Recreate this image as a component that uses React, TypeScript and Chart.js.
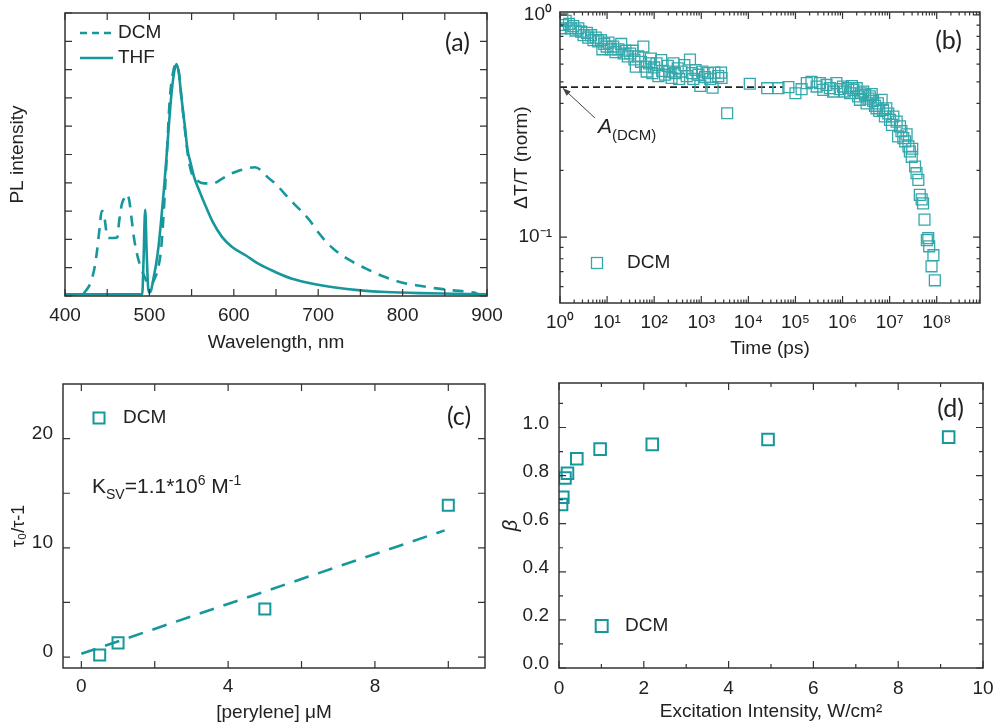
import React, { useEffect, useRef } from "react";
import { Chart, registerables } from "chart.js";

Chart.register(...registerables);

const TEAL = "#16979c";
const TEAL_LIGHT = "#35a8ac";
const INK = "#222222";
const FRAME = "#333333";
const SANS = "'Liberation Sans', Arial, Helvetica, sans-serif";
const PANEL_FONT = "Lato, 'Open Sans', sans-serif";

Chart.defaults.font.family = SANS;
Chart.defaults.color = INK;

// ---------------- (a) PL spectra ----------------
const dcmWavelength = [
  400, 420, 425, 430, 435, 438, 441, 443.5, 446, 448,
  450, 453, 458, 462, 464, 467, 470, 473, 476, 479,
  482, 486, 490, 494, 498, 502, 506, 510, 514, 518,
  521, 524, 528, 532, 535, 538, 542, 546, 550, 556,
  565, 575, 585, 595, 605, 615, 625, 632, 640, 650,
  660, 670, 680, 690, 700, 710, 720, 740, 760, 780,
  800, 820, 840, 860, 875, 880, 885, 890, 900,
];
const dcmIntensity = [
  0.06, 0.06, 0.2, 0.45, 1.0, 1.6, 2.4, 3.0, 2.95, 2.5,
  2.1, 2.05, 2.05, 2.07, 2.6, 3.2, 3.45, 3.6, 3.4, 2.7,
  2.0, 1.4, 1.0, 0.7, 0.45, 0.4, 0.6, 0.95, 1.7, 3.5,
  5.2, 6.9, 7.9, 8.2, 7.9, 7.0, 5.9, 4.9, 4.35, 4.1,
  3.98, 3.98, 4.12, 4.3, 4.42, 4.5, 4.55, 4.45, 4.2, 3.95,
  3.62, 3.3, 3.0, 2.67, 2.25, 1.9, 1.62, 1.22, 0.92, 0.66,
  0.47, 0.36, 0.27, 0.2, 0.16, 0.14, 0.12, 0.06, 0.06,
];
const thfWavelength = [
  400, 450, 491.5, 493, 495, 496.8, 498.5, 500, 502, 505,
  508, 511, 514, 517, 520, 523, 526, 529, 532, 535,
  538, 542, 545, 549, 553, 559, 567, 575, 586, 598,
  614, 629, 649, 669, 692, 720, 750, 780, 820, 860,
  900,
];
const thfIntensity = [
  0.06, 0.06, 0.06, 1.2, 3.05, 1.5, 0.3, 0.12, 0.2, 0.65,
  1.14, 1.8, 2.7, 3.7, 4.8, 6.0, 7.1, 7.85, 8.2, 7.85,
  7.0, 6.0, 5.2, 4.68, 4.2, 3.73, 3.15, 2.62, 2.09, 1.73,
  1.44, 1.14, 0.85, 0.61, 0.44, 0.3, 0.2, 0.14, 0.1, 0.08,
  0.06,
];
const aXTicks = [400, 500, 600, 700, 800, 900];
const aXTickMarks = [400, 450, 500, 550, 600, 650, 700, 750, 800, 850, 900];
const aYTickMarks = [0, 1, 2, 3, 4, 5, 6, 7, 8, 9, 10];

// ---------------- (b) transient decay ----------------
const timePs = [
  1.07, 1.12, 1.17, 1.32, 1.55, 1.7, 1.91, 2.14, 2.45, 2.82,
  3.16, 3.72, 3.98, 4.57, 5.13, 5.75, 6.46, 7.41, 7.94, 8.71,
  9.77, 10.7, 12.0, 13.5, 15.1, 17.4, 20.0, 22.4, 24.5, 27.5,
  30.9, 34.7, 38.0, 40.7, 45.7, 52.5, 58.9, 64.6, 69.2, 77.6,
  85.1, 91.2, 100, 112, 123, 141, 148, 170, 195, 209,
  234, 257, 275, 316, 339, 380, 437, 490, 575, 631,
  676, 759, 871, 955, 1047, 1202, 1380, 1549, 1738, 1905,
  2291, 2630, 2692, 3548,
  10715, 25119, 43652, 70795, 1.0e5, 1.35e5, 1.74e5, 2.19e5, 2.82e5, 3.31e5,
  3.89e5, 4.57e5, 5.37e5, 6.31e5, 7.41e5, 8.71e5, 1.02e6, 1.12e6, 1.32e6, 1.45e6,
  1.58e6, 1.7e6, 2.0e6, 2.14e6, 2.34e6, 2.51e6, 2.75e6, 3.02e6, 3.24e6, 3.55e6,
  3.8e6, 4.17e6, 4.47e6, 4.9e6, 5.25e6, 5.62e6, 6.03e6, 6.76e6, 7.24e6, 7.94e6,
  8.51e6, 9.33e6, 1.02e7, 1.12e7, 1.2e7, 1.41e7, 1.51e7, 1.66e7, 1.78e7, 1.95e7,
  2.14e7, 2.29e7, 2.51e7, 2.69e7, 2.95e7, 3.02e7, 3.47e7, 3.72e7, 4.07e7, 4.37e7,
  4.79e7, 5.13e7, 5.5e7, 6.17e7, 6.61e7, 6.92e7, 7.76e7, 8.51e7, 9.12e7,
];
const dtNorm = [
  0.87, 0.96, 0.9, 0.94, 0.91, 0.87, 0.89, 0.85, 0.87, 0.84,
  0.81, 0.83, 0.79, 0.81, 0.77, 0.79, 0.76, 0.77, 0.7, 0.74,
  0.72, 0.75, 0.7, 0.72, 0.68, 0.7, 0.74, 0.67, 0.69, 0.65,
  0.67, 0.69, 0.63, 0.585, 0.65, 0.615, 0.72, 0.585, 0.556, 0.605,
  0.636, 0.547, 0.58, 0.605, 0.53, 0.626, 0.56, 0.538, 0.59, 0.556,
  0.52, 0.605, 0.547, 0.575, 0.515, 0.556, 0.594, 0.53, 0.63, 0.547,
  0.515, 0.565, 0.538, 0.479, 0.556, 0.525, 0.547, 0.515, 0.47, 0.55,
  0.53, 0.55, 0.52, 0.361,
  0.49, 0.468, 0.468, 0.473, 0.444, 0.463, 0.493, 0.5, 0.476, 0.493,
  0.46, 0.484, 0.468, 0.452, 0.493, 0.463, 0.476, 0.452, 0.468, 0.444,
  0.478, 0.46, 0.468, 0.43, 0.415, 0.444, 0.452, 0.437, 0.4, 0.42,
  0.43, 0.44, 0.41, 0.39, 0.38, 0.4, 0.37, 0.415, 0.374, 0.349,
  0.38, 0.36, 0.337, 0.32, 0.349, 0.331, 0.284, 0.315, 0.3, 0.279,
  0.27, 0.29, 0.256, 0.243, 0.23, 0.25, 0.208, 0.194, 0.181, 0.155,
  0.148, 0.142, 0.12, 0.097, 0.099, 0.091, 0.074, 0.083, 0.064,
];
const aDcmLevel = 0.473;
const aDcmLineStart = 1;
const aDcmLineEnd = 5.4e4;
const bXTickValues = [1, 1e1, 1e2, 1e3, 1e4, 1e5, 1e6, 1e7, 1e8];
const bXTickLabels = ["10⁰", "10¹", "10²", "10³", "10⁴", "10⁵", "10⁶", "10⁷", "10⁸"];
const bYTickValues = [0.1, 1];
const bYTickLabels = ["10⁻¹", "10⁰"];
const bXMinorMarks: number[] = [];
for (let d = 1; d <= 1e8; d *= 10) for (let m = 2; m <= 9; m++) bXMinorMarks.push(m * d);
const bYMinorMarks = [0.06, 0.07, 0.08, 0.09, 0.2, 0.3, 0.4, 0.5, 0.6, 0.7, 0.8, 0.9];
const bArrowFrom: [number, number] = [5.5, 0.344];
const bArrowTo: [number, number] = [1.15, 0.468];

// ---------------- (c) Stern-Volmer ----------------
const peryleneUM = [0.5, 1, 5, 10];
const tauRatio = [0.2, 1.3, 4.4, 13.9];
const ksvFitX = [0, 9.9];
const ksvFitY = [0.3, 11.6];
const cXTicks = [0, 4, 8];
const cXTickMarks = [0, 2, 4, 6, 8, 10];
const cYTicks = [0, 10, 20];
const cYTickMarks = [0, 5, 10, 15, 20];

// ---------------- (d) beta vs excitation ----------------
const excitationW = [0.06, 0.09, 0.14, 0.2, 0.42, 0.97, 2.2, 4.93, 9.19];
const betaValues = [0.68, 0.71, 0.79, 0.81, 0.87, 0.91, 0.93, 0.95, 0.96];
const dXTicks = [0, 2, 4, 6, 8, 10];
const dXMinorMarks = [1, 3, 5, 7, 9];
const dYTicks = [0, 0.2, 0.4, 0.6, 0.8, 1.0];
const dYTickLabels = ["0.0", "0.2", "0.4", "0.6", "0.8", "1.0"];
const dYMinorMarks = [0.1, 0.3, 0.5, 0.7, 0.9, 1.1];

// ---------------- helpers ----------------
const fixWidth = (w: number) => (scale: any) => {
  scale.width = w;
  scale.paddingTop = 0;
  scale.paddingBottom = 0;
  scale.paddingLeft = 0;
  scale.paddingRight = 0;
};
const fixHeight = (h: number) => (scale: any) => {
  scale.height = h;
  scale.paddingLeft = 0;
  scale.paddingRight = 0;
  scale.paddingTop = 0;
  scale.paddingBottom = 0;
};
const setTicks = (values: number[]) => (scale: any) => {
  scale.ticks = values.map((value) => ({ value }));
};
const pairs = (xs: number[], ys: number[]) => xs.map((x, i) => ({ x, y: ys[i] }));

type FrameSpec = {
  xMajor: number[];
  xMinor?: number[];
  yMajor: number[];
  yMinor?: number[];
  major: number;
  minor: number;
};

function framePlugin(spec: FrameSpec) {
  return {
    id: "frameTicks",
    afterDraw(chart: any) {
      const { ctx, chartArea: a, scales } = chart;
      const sx = scales.x;
      const sy = scales.y;
      ctx.save();
      ctx.strokeStyle = FRAME;
      ctx.lineWidth = 1.2;
      ctx.setLineDash([]);
      ctx.beginPath();
      const xm = (vals: number[] | undefined, len: number) =>
        (vals || []).forEach((v) => {
          const p = sx.getPixelForValue(v);
          if (p < a.left - 0.5 || p > a.right + 0.5) return;
          ctx.moveTo(p, a.bottom);
          ctx.lineTo(p, a.bottom - len);
          ctx.moveTo(p, a.top);
          ctx.lineTo(p, a.top + len);
        });
      const ym = (vals: number[] | undefined, len: number) =>
        (vals || []).forEach((v) => {
          const p = sy.getPixelForValue(v);
          if (p < a.top - 0.5 || p > a.bottom + 0.5) return;
          ctx.moveTo(a.left, p);
          ctx.lineTo(a.left + len, p);
          ctx.moveTo(a.right, p);
          ctx.lineTo(a.right - len, p);
        });
      xm(spec.xMajor, spec.major);
      xm(spec.xMinor, spec.minor);
      ym(spec.yMajor, spec.major);
      ym(spec.yMinor, spec.minor);
      ctx.stroke();
      ctx.lineWidth = 1.5;
      ctx.strokeRect(a.left, a.top, a.right - a.left, a.bottom - a.top);
      ctx.restore();
    },
  };
}

type Run = { t: string; size: number; dy?: number; italic?: boolean };
type Label = {
  x: number;
  y: number;
  runs: Run[];
  align?: "left" | "center";
  baseline?: CanvasTextBaseline;
  family?: string;
};
type Deco = {
  labels?: Label[];
  lineKeys?: { x1: number; x2: number; y: number; dash: number[]; width: number; color: string }[];
  squareKeys?: { x: number; y: number; size: number; width: number; color: string }[];
  arrows?: { from: [number, number]; to: [number, number] }[];
};

function decoPlugin(deco: Deco) {
  return {
    id: "deco",
    afterDraw(chart: any) {
      const { ctx, scales } = chart;
      ctx.save();
      (deco.lineKeys || []).forEach((k) => {
        ctx.beginPath();
        ctx.setLineDash(k.dash);
        ctx.strokeStyle = k.color;
        ctx.lineWidth = k.width;
        ctx.moveTo(k.x1, k.y);
        ctx.lineTo(k.x2, k.y);
        ctx.stroke();
      });
      ctx.setLineDash([]);
      (deco.squareKeys || []).forEach((s) => {
        ctx.strokeStyle = s.color;
        ctx.lineWidth = s.width;
        ctx.strokeRect(s.x - s.size / 2, s.y - s.size / 2, s.size, s.size);
      });
      (deco.arrows || []).forEach((ar) => {
        const x1 = scales.x.getPixelForValue(ar.from[0]);
        const y1 = scales.y.getPixelForValue(ar.from[1]);
        const x2 = scales.x.getPixelForValue(ar.to[0]);
        const y2 = scales.y.getPixelForValue(ar.to[1]);
        ctx.strokeStyle = "#444";
        ctx.fillStyle = "#444";
        ctx.lineWidth = 1;
        ctx.beginPath();
        ctx.moveTo(x1, y1);
        ctx.lineTo(x2, y2);
        ctx.stroke();
        const ang = Math.atan2(y2 - y1, x2 - x1);
        const L = 8;
        const W = 3;
        const c = Math.cos(ang);
        const s = Math.sin(ang);
        ctx.beginPath();
        ctx.moveTo(x2, y2);
        ctx.lineTo(x2 - L * c + W * s, y2 - L * s - W * c);
        ctx.lineTo(x2 - L * c - W * s, y2 - L * s + W * c);
        ctx.closePath();
        ctx.fill();
      });
      (deco.labels || []).forEach((l) => {
        ctx.fillStyle = INK;
        ctx.textBaseline = l.baseline || "alphabetic";
        ctx.textAlign = "left";
        const fam = l.family || SANS;
        const fontOf = (r: Run) => `${r.italic ? "italic " : ""}${r.size}px ${fam}`;
        let total = 0;
        l.runs.forEach((r) => {
          ctx.font = fontOf(r);
          total += ctx.measureText(r.t).width;
        });
        let x = l.align === "center" ? l.x - total / 2 : l.x;
        l.runs.forEach((r) => {
          ctx.font = fontOf(r);
          ctx.fillText(r.t, x, l.y + (r.dy || 0));
          x += ctx.measureText(r.t).width;
        });
      });
      ctx.restore();
    },
  };
}

const noGrid = { display: false, drawTicks: false };
const noBorder = { display: false };
const tickFont = { size: 19 };
const titleFont = { size: 19 };
const baseOpts = (padTop: number, padRight: number) => ({
  animation: false as const,
  responsive: false,
  maintainAspectRatio: false,
  layout: { padding: { top: padTop, right: padRight, left: 0, bottom: 0 } },
  plugins: { legend: { display: false }, tooltip: { enabled: false } },
});

// ---------------- chart builders ----------------
function buildA(): any {
  return {
    type: "line",
    data: {
      datasets: [
        {
          label: "DCM",
          data: pairs(dcmWavelength, dcmIntensity),
          borderColor: TEAL,
          borderWidth: 2.6,
          borderDash: [11, 8],
          pointRadius: 0,
          fill: false,
          cubicInterpolationMode: "monotone",
        },
        {
          label: "THF",
          data: pairs(thfWavelength, thfIntensity),
          borderColor: TEAL,
          borderWidth: 2.6,
          pointRadius: 0,
          fill: false,
          cubicInterpolationMode: "monotone",
        },
      ],
    },
    options: {
      ...baseOpts(13, 23),
      scales: {
        x: {
          type: "linear",
          min: 400,
          max: 900,
          afterBuildTicks: setTicks(aXTicks),
          afterFit: fixHeight(65),
          grid: noGrid,
          border: noBorder,
          ticks: { padding: 8, font: tickFont, color: INK, callback: (v: number) => String(v) },
          title: { display: true, text: "Wavelength, nm", font: titleFont, color: INK, padding: { top: 0, bottom: 7 } },
        },
        y: {
          type: "linear",
          min: 0,
          max: 10,
          afterFit: fixWidth(65),
          grid: noGrid,
          border: noBorder,
          ticks: { display: false },
          title: { display: true, text: "PL intensity", font: titleFont, color: INK, padding: { top: 6, bottom: 0 } },
        },
      },
    },
    plugins: [
      framePlugin({ xMajor: aXTickMarks, yMajor: aYTickMarks, major: 7, minor: 4 }),
      decoPlugin({
        lineKeys: [
          { x1: 80, x2: 113, y: 33, dash: [7, 5], width: 2.6, color: TEAL },
          { x1: 80, x2: 113, y: 58, dash: [], width: 2.6, color: TEAL },
        ],
        labels: [
          { x: 118, y: 33, runs: [{ t: "DCM", size: 19 }], baseline: "middle" },
          { x: 118, y: 58, runs: [{ t: "THF", size: 19 }], baseline: "middle" },
          { x: 457.5, y: 42.5, runs: [{ t: "(a)", size: 25 }], baseline: "middle", align: "center", family: PANEL_FONT },
        ],
      }),
    ],
  };
}

function buildB(): any {
  return {
    type: "scatter",
    data: {
      datasets: [
        {
          label: "DCM",
          data: pairs(timePs, dtNorm),
          pointStyle: "rect",
          pointRadius: 7.7,
          borderColor: TEAL_LIGHT,
          backgroundColor: "rgba(0,0,0,0)",
          borderWidth: 1.3,
        },
        {
          label: "A(DCM)",
          data: pairs([aDcmLineStart, aDcmLineEnd], [aDcmLevel, aDcmLevel]),
          showLine: true,
          borderColor: "#222",
          borderWidth: 1.6,
          borderDash: [7, 4],
          pointRadius: 0,
        },
      ],
    },
    options: {
      ...baseOpts(12, 15),
      scales: {
        x: {
          type: "logarithmic",
          min: 1,
          max: 8.3e8,
          afterBuildTicks: setTicks(bXTickValues),
          afterFit: fixHeight(58),
          grid: noGrid,
          border: noBorder,
          ticks: { padding: 8, font: tickFont, color: INK, callback: (_v: number, i: number) => bXTickLabels[i] },
          title: { display: true, text: "Time (ps)", font: titleFont, color: INK, padding: { top: 0, bottom: 1.3 } },
        },
        y: {
          type: "logarithmic",
          min: 0.0506,
          max: 1.03,
          afterBuildTicks: setTicks(bYTickValues),
          afterFit: fixWidth(63),
          grid: noGrid,
          border: noBorder,
          ticks: { padding: 8, labelOffset: 0, font: tickFont, color: INK, callback: (_v: number, i: number) => bYTickLabels[i] },
          title: { display: true, text: "ΔT/T (norm)", font: titleFont, color: INK, padding: { top: 13, bottom: 0 } },
        },
      },
    },
    plugins: [
      framePlugin({ xMajor: bXTickValues, xMinor: bXMinorMarks, yMajor: bYTickValues, yMinor: bYMinorMarks, major: 7, minor: 3.5 }),
      decoPlugin({
        squareKeys: [{ x: 100, y: 263, size: 11, width: 1.3, color: TEAL_LIGHT }],
        arrows: [{ from: bArrowFrom, to: bArrowTo }],
        labels: [
          { x: 130, y: 263, runs: [{ t: "DCM", size: 19 }], baseline: "middle" },
          { x: 451.5, y: 40.5, runs: [{ t: "(b)", size: 25 }], baseline: "middle", align: "center", family: PANEL_FONT },
          { x: 101, y: 133, runs: [{ t: "A", size: 21, italic: true }, { t: "(DCM)", size: 15, dy: 7 }] },
        ],
      }),
    ],
  };
}

function buildC(): any {
  return {
    type: "scatter",
    data: {
      datasets: [
        {
          label: "DCM",
          data: pairs(peryleneUM, tauRatio),
          pointStyle: "rect",
          pointRadius: 7.8,
          borderColor: TEAL,
          backgroundColor: "rgba(0,0,0,0)",
          borderWidth: 2,
        },
        {
          label: "fit",
          data: pairs(ksvFitX, ksvFitY),
          showLine: true,
          borderColor: TEAL,
          borderWidth: 2.6,
          borderDash: [15, 10],
          pointRadius: 0,
        },
      ],
    },
    options: {
      ...baseOpts(23, 12),
      scales: {
        x: {
          type: "linear",
          min: -0.5,
          max: 11,
          afterBuildTicks: setTicks(cXTicks),
          afterFit: fixHeight(54),
          grid: noGrid,
          border: noBorder,
          ticks: { padding: 7, font: tickFont, color: INK, callback: (v: number) => String(v) },
          title: { display: true, text: "[perylene] μM", font: { size: 19, lineHeight: 1 }, color: INK, padding: { top: 0, bottom: 0 } },
        },
        y: {
          type: "linear",
          min: -1,
          max: 25,
          afterBuildTicks: setTicks(cYTicks),
          afterFit: fixWidth(63),
          grid: noGrid,
          border: noBorder,
          ticks: { padding: 10, labelOffset: -5, font: tickFont, color: INK, callback: (v: number) => String(v) },
          title: { display: true, text: "τ₀/τ-1", font: { size: 18 }, color: INK, padding: { top: 8, bottom: 0 } },
        },
      },
    },
    plugins: [
      framePlugin({ xMajor: cXTickMarks, yMajor: cYTickMarks, major: 7, minor: 4 }),
      decoPlugin({
        squareKeys: [{ x: 99, y: 57, size: 11, width: 2, color: TEAL }],
        labels: [
          { x: 123, y: 57, runs: [{ t: "DCM", size: 19 }], baseline: "middle" },
          { x: 459, y: 55.5, runs: [{ t: "(c)", size: 25 }], baseline: "middle", align: "center", family: PANEL_FONT },
          {
            x: 92,
            y: 132,
            runs: [
              { t: "K", size: 21 },
              { t: "SV", size: 14, dy: 6 },
              { t: "=1.1*10", size: 21 },
              { t: "6", size: 14, dy: -8 },
              { t: " M", size: 21 },
              { t: "-1", size: 14, dy: -8 },
            ],
          },
        ],
      }),
    ],
  };
}

function buildD(): any {
  return {
    type: "scatter",
    data: {
      datasets: [
        {
          label: "DCM",
          data: pairs(excitationW, betaValues),
          pointStyle: "rect",
          pointRadius: 8.2,
          borderColor: TEAL,
          backgroundColor: "rgba(0,0,0,0)",
          borderWidth: 2,
        },
      ],
    },
    options: {
      ...baseOpts(22, 12),
      scales: {
        x: {
          type: "linear",
          min: 0,
          max: 10,
          afterBuildTicks: setTicks(dXTicks),
          afterFit: fixHeight(54),
          grid: noGrid,
          border: noBorder,
          ticks: { padding: 9, font: tickFont, color: INK, callback: (v: number) => String(v) },
          title: { display: true, text: "Excitation Intensity, W/cm²", font: { size: 19, lineHeight: 1 }, color: INK, padding: { top: 0, bottom: 1 } },
        },
        y: {
          type: "linear",
          min: 0,
          max: 1.185,
          afterBuildTicks: setTicks(dYTicks),
          afterFit: fixWidth(62),
          grid: noGrid,
          border: noBorder,
          ticks: { padding: 10, labelOffset: -4, font: tickFont, color: INK, callback: (_v: number, i: number) => dYTickLabels[i] },
          title: { display: true, text: "β", font: { size: 20, style: "italic" }, color: INK, padding: { top: 2, bottom: 0 } },
        },
      },
    },
    plugins: [
      framePlugin({ xMajor: dXTicks, xMinor: dXMinorMarks, yMajor: dYTicks, yMinor: dYMinorMarks, major: 7, minor: 4 }),
      decoPlugin({
        squareKeys: [{ x: 104.7, y: 265, size: 12, width: 2, color: TEAL }],
        labels: [
          { x: 128, y: 265, runs: [{ t: "DCM", size: 19 }], baseline: "middle" },
          { x: 453.5, y: 47.5, runs: [{ t: "(d)", size: 25 }], baseline: "middle", align: "center", family: PANEL_FONT },
        ],
      }),
    ],
  };
}

function Panel(props: { left: number; top: number; width: number; height: number; build: () => any }) {
  const ref = useRef<HTMLCanvasElement>(null);
  useEffect(() => {
    const chart = new Chart(ref.current as HTMLCanvasElement, props.build());
    return () => chart.destroy();
  }, []);
  return (
    <canvas
      ref={ref}
      width={props.width}
      height={props.height}
      style={{ position: "absolute", left: props.left, top: props.top, width: props.width, height: props.height }}
    />
  );
}

export default function App() {
  return (
    <div style={{ position: "absolute", left: 0, top: 0, width: 995, height: 722, background: "#ffffff", overflow: "hidden" }}>
      <Panel left={0} top={0} width={510} height={361} build={buildA} />
      <Panel left={497} top={0} width={498} height={361} build={buildB} />
      <Panel left={0} top={361} width={497} height={361} build={buildC} />
      <Panel left={497} top={361} width={498} height={361} build={buildD} />
    </div>
  );
}
